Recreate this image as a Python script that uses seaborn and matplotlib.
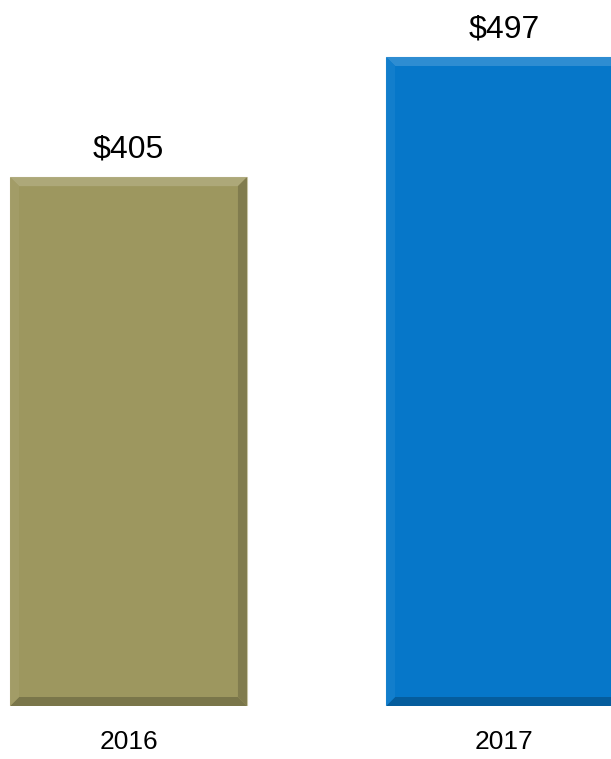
import matplotlib
matplotlib.use("Agg")
import matplotlib.pyplot as plt
import seaborn as sns
import pandas as pd
from matplotlib.patches import Polygon
from matplotlib.colors import to_rgb

years = ["2016", "2017"]
values = [405, 497]
colors = ["#9D975F", "#0677C9"]

sns.set_theme(style="white")
plt.rcParams["font.family"] = ["Liberation Sans", "DejaVu Sans"]

df = pd.DataFrame({"year": years, "value": values})

fig = plt.figure(figsize=(6.11, 7.59), dpi=100)
ax = fig.add_axes([0, 53 / 759, 1, 706 / 759])

sns.barplot(data=df, x="year", y="value", hue="year", palette=colors,
            width=0.63, legend=False, ax=ax, saturation=1)

px_per_x = 376.0
ax.set_xlim(-128.5 / px_per_x, (611 - 128.5) / px_per_x)
px_per_y = 649.0 / 497
ax.set_ylim(0, 706 / px_per_y)

def shade(c, f):
    r, g, b = to_rgb(c)
    if f >= 0:
        return (r + (1 - r) * f, g + (1 - g) * f, b + (1 - b) * f)
    return (r * (1 + f), g * (1 + f), b * (1 + f))

# bevelled edges on each bar
bev_px = 9
for patch, c in zip(ax.patches, colors):
    patch.set_edgecolor(shade(c, 0.45))
    patch.set_linewidth(0.8)
    x0, y0 = patch.get_x(), patch.get_y()
    x1, y1 = x0 + patch.get_width(), y0 + patch.get_height()
    dx = bev_px / px_per_x
    dy = bev_px / px_per_y
    faces = [
        ([(x0, y1), (x1, y1), (x1 - dx, y1 - dy), (x0 + dx, y1 - dy)], shade(c, 0.16)),
        ([(x0, y0), (x1, y0), (x1 - dx, y0 + dy), (x0 + dx, y0 + dy)], shade(c, -0.22)),
        ([(x0, y0), (x0, y1), (x0 + dx, y1 - dy), (x0 + dx, y0 + dy)], shade(c, 0.05)),
        ([(x1, y0), (x1, y1), (x1 - dx, y1 - dy), (x1 - dx, y0 + dy)], shade(c, -0.18)),
    ]
    for pts, fc in faces:
        ax.add_patch(Polygon(pts, closed=True, facecolor=fc, edgecolor="none", zorder=patch.get_zorder() + 0.1))

for cont in ax.containers:
    ax.bar_label(cont, labels=[f"${v:.0f}" for v in cont.datavalues], padding=9, fontsize=23, color="black")

ax.set_xlabel("")
ax.set_ylabel("")
ax.set_yticks([])
ax.tick_params(axis="x", length=0, pad=17, labelsize=19, labelcolor="black")
for s in ax.spines.values():
    s.set_visible(False)

fig.savefig("out.png", dpi=100)
